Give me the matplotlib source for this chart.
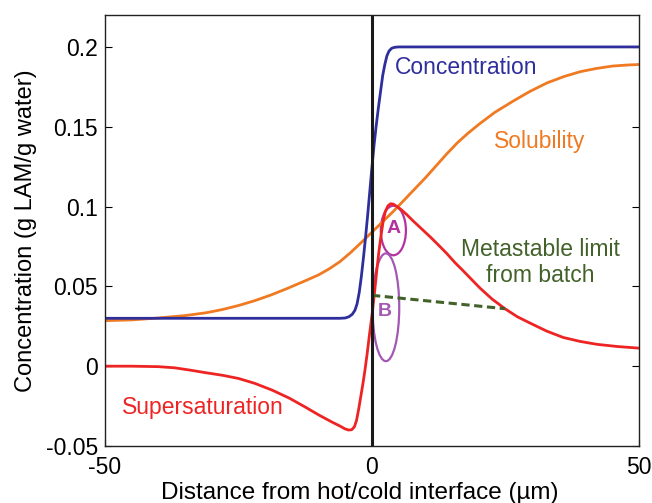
import matplotlib
matplotlib.use("Agg")
import matplotlib.pyplot as plt
from matplotlib.patches import Ellipse

plt.rcParams['font.family'] = ['Liberation Sans', 'DejaVu Sans']

# Concentration (blue)
conc_x = [-50, -6, -5, -4.3, -3.7, -3.2, -2.8, -2.4, -2.0, -1.6, -1.2, -0.8, -0.4, 0, 0.4, 0.8, 1.2, 1.6, 2.0, 2.4, 2.8, 3.2, 3.7, 4.3, 5, 50]
conc_y = [0.030, 0.030, 0.0302, 0.031, 0.0325, 0.035, 0.039, 0.046, 0.056, 0.068, 0.081, 0.095, 0.110, 0.125, 0.139, 0.151, 0.162, 0.172, 0.182, 0.189, 0.1945, 0.1975, 0.1992, 0.1998, 0.2, 0.2]

# Solubility (orange)
sol_x = [-50, -45, -40, -35, -31, -28, -25, -22, -19, -16, -12.5, -10, -8, -6, -4, -2, 0, 2, 4, 6, 8, 10, 12, 14, 16, 18, 20.2, 23, 26.4, 29.5, 32.8, 36, 39, 42, 45, 48, 50]
sol_y = [0.0285, 0.029, 0.0302, 0.0317, 0.0335, 0.0355, 0.038, 0.041, 0.0445, 0.0485, 0.0535, 0.0572, 0.061, 0.0655, 0.0712, 0.0775, 0.084, 0.0905, 0.097, 0.104, 0.111, 0.118, 0.1255, 0.133, 0.140, 0.146, 0.152, 0.159, 0.166, 0.172, 0.1775, 0.1815, 0.1845, 0.1865, 0.188, 0.1887, 0.189]

# Supersaturation (red)
sup_x = [-50, -45, -40, -37, -34, -31.3, -28, -25, -22, -18.7, -15.5, -12.5, -10, -7.5, -6, -5.1, -4.4, -3.8, -3.3, -2.9, -2.5, -2.1, -1.7, -1.3, -0.9, -0.5, 0, 0.5, 0.9, 1.3, 1.7, 2.1, 2.5, 3.0, 3.5, 4.0, 4.7, 5.5, 6.5, 7.7, 9.3, 10.9, 12.5, 14, 15.5, 17, 18.6, 20.2, 22.5, 24.9, 27.2, 29.6, 32.7, 35.8, 39, 42.1, 46, 50]
sup_y = [0.0, 0.0, -0.0003, -0.001, -0.0025, -0.004, -0.0057, -0.0077, -0.0107, -0.015, -0.020, -0.0256, -0.0305, -0.035, -0.0375, -0.0392, -0.040, -0.0398, -0.038, -0.034, -0.027, -0.019, -0.011, -0.002, 0.008, 0.019, 0.032, 0.047, 0.060, 0.072, 0.082, 0.091, 0.097, 0.1005, 0.1018, 0.1015, 0.100, 0.098, 0.095, 0.091, 0.086, 0.081, 0.0757, 0.0706, 0.065, 0.060, 0.0545, 0.049, 0.042, 0.036, 0.031, 0.027, 0.022, 0.018, 0.0155, 0.0137, 0.0123, 0.0113]

# Metastable limit from batch (green dashed)
meta_x = [0, 24.9]
meta_y = [0.0444, 0.036]

# Ellipses (center x, center y, width, height)
ellA = (4.0, 0.085, 4.7, 0.031)
ellB = (2.6, 0.0369, 5.0, 0.0675)

xticks = [-50, 0, 50]
yticks = [-0.05, 0, 0.05, 0.1, 0.15, 0.2]
ytick_labels = ['-0.05', '0', '0.05', '0.1', '0.15', '0.2']

c_blue = '#2E2E9C'
c_orange = '#F07A22'
c_red = '#EE2424'
c_green = '#426229'
c_A = '#B232A0'
c_B = '#A458B4'

fig = plt.figure(figsize=(6.52, 5.03), dpi=100)
ax = fig.add_axes([105/652, 57/503, (639-105)/652, (446-15)/503])

ax.plot(sol_x, sol_y, color=c_orange, lw=2)
ax.plot(conc_x, conc_y, color=c_blue, lw=2)
ax.plot(sup_x, sup_y, color=c_red, lw=2)
ax.plot(meta_x, meta_y, color=c_green, lw=2.2, ls=(0, (2.7, 1.5)))
ax.axvline(0, color='#1a1a1a', lw=2.2)

for (cx, cy, w, h), col in [(ellA, c_A), (ellB, c_B)]:
    ax.add_patch(Ellipse((cx, cy), w, h, fill=False, edgecolor=col, lw=1.6))

ax.text(4.1, 0.086, 'A', color=c_A, fontsize=14, fontweight='bold', ha='center', va='center')
ax.text(2.4, 0.034, 'B', color=c_B, fontsize=14, fontweight='bold', ha='center', va='center')

ax.text(4.3, 0.187, 'Concentration', color=c_blue, fontsize=16.5, ha='left', va='center')
ax.text(22.8, 0.1406, 'Solubility', color=c_orange, fontsize=16.5, ha='left', va='center')
ax.text(31.5, 0.065, 'Metastable limit\nfrom batch', color=c_green, fontsize=16.5, ha='center', va='center', linespacing=1.15)
ax.text(-46.8, -0.0256, 'Supersaturation', color=c_red, fontsize=16.5, ha='left', va='center')

ax.set_xlim(-50, 50)
ax.set_ylim(-0.05, 0.22)
ax.set_xticks(xticks)
ax.set_xticklabels([str(t) for t in xticks])
ax.set_yticks(yticks)
ax.set_yticklabels(ytick_labels)
ax.tick_params(direction='in', length=5, labelsize=16.5, top=False, right=True)
ax.tick_params(axis='x', pad=7)
ax.tick_params(axis='y', pad=5)
ax.set_xlabel('Distance from hot/cold interface (µm)', fontsize=17.5)
ax.xaxis.set_label_coords((360 - 105) / 534, -36 / 431)
ax.set_ylabel('Concentration (g LAM/g water)', fontsize=17, labelpad=6)
for s in ax.spines.values():
    s.set_linewidth(1.0)
    s.set_color('#222222')

fig.savefig('out.png', dpi=100)
